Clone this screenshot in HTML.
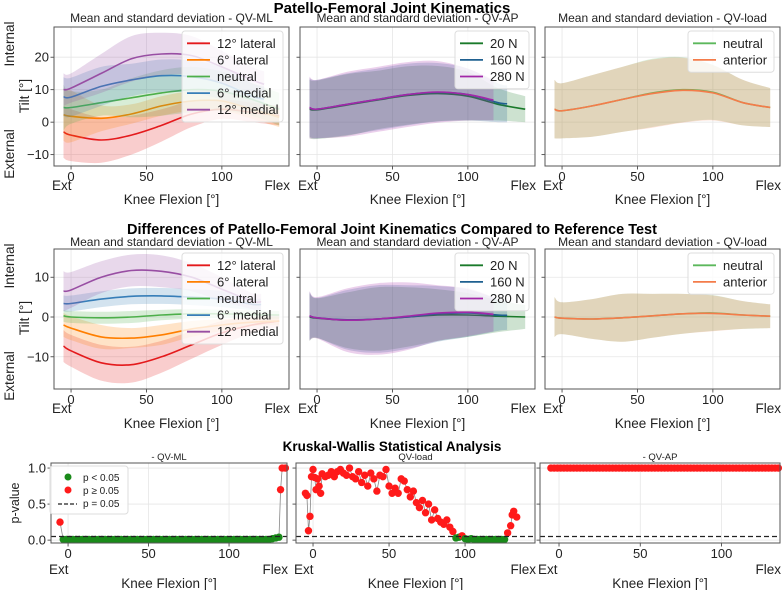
<!DOCTYPE html>
<html><head><meta charset="utf-8"><style>
body{margin:0;background:#fff;width:784px;height:590px;overflow:hidden;font-family:"Liberation Sans",sans-serif}
svg text{font-family:"Liberation Sans","DejaVu Sans",sans-serif}
</style></head><body>
<svg id="fig" width="784" height="590" viewBox="0 0 784 590" xmlns="http://www.w3.org/2000/svg"></svg>
<script>
// ---------- DATA ----------
const xKnots = [-5, 0, 20, 40, 60, 80, 100, 120, 138];
// Row 1 QV-ML means / sd
const mlLat12Mean = [-3, -4, -5.5, -4, -1, 2.5, 4, 3, 2];
const mlLat12Sd = [8, 8, 7, 6, 5, 4, 3, 3, 3];
const mlLat6Mean = [2.3, 1.8, 1.2, 2.5, 5, 6.5, 6.5, 4, 1.5];
const mlLat6Sd = [8, 8, 4, 3, 3, 3, 3, 3, 3];
const mlNeuMean = [4.5, 4.5, 6, 7.5, 9, 10, 9.5, 7, 4];
const mlNeuSd = [7, 5, 4, 6, 7, 7, 6, 5, 5];
const mlMed6Mean = [7.8, 7.7, 11, 13, 14.3, 14, 12, 8, 6];
const mlMed6Sd = [6, 6, 6, 5, 5, 5, 5, 4, 4];
const mlMed12Mean = [10, 10.5, 15, 19.5, 21, 20.5, 17, 13, 10];
const mlMed12Sd = [5, 4.5, 6, 7, 6.5, 6, 5, 4, 4];
// Row 1 QV-AP
const ap20Mean = [4, 3.8, 5.3, 6.8, 8.2, 8.8, 8, 5.5, 4];
const ap20Sd = [9, 9, 9.5, 9, 9, 8.5, 7.5, 5, 4];
const ap160Mean = [4.5, 4, 5.5, 7, 8.5, 9.2, 8.5, 6, 5];
const ap160Sd = [9, 9, 9.5, 9.5, 9.5, 9, 8, 6, 5];
const ap280Mean = [4.5, 4, 5.5, 7, 8.5, 9.3, 8.5, 6.5, 6];
const ap280Sd = [9.5, 9, 10, 10, 10, 9.5, 8, 6, 6];
const apEnds = [138, 126, 117];
// Row 1 QV-load
const ldNeuMean = [4, 3.5, 5, 7, 9, 10, 9.2, 6, 4.5];
const ldNeuSd = [9, 8.5, 9.5, 10, 10.5, 10, 8.5, 7, 6];
const ldAntMean = [4, 3.5, 5, 7, 8.8, 9.8, 9, 6, 4.5];
const ldAntSd = [9, 8.5, 9.5, 10, 10.5, 10, 8.5, 7, 6];
// Row 2 QV-ML differences
const dLat12Mean = [-7.3, -8.5, -11.5, -12, -10, -7, -4, -2, -1];
const dLat12Sd = [4, 4, 4.5, 4.5, 4, 3.5, 3, 2, 1.5];
const dLat6Mean = [-2, -2.8, -5, -5.3, -4.5, -3, -2, -1.3, -1];
const dLat6Sd = [3, 3, 3, 2.5, 2.5, 2, 1.5, 1, 1];
const dNeuMean = [0.3, 0, -0.2, 0, 0.5, 0.8, 0.8, 0.6, 0.5];
const dNeuSd = [1.5, 1.5, 1.5, 1.5, 1.3, 1.2, 1, 1, 1];
const dMed6Mean = [3.4, 3.4, 4.5, 5.2, 5.3, 5, 4.5, 3.2, 3];
const dMed6Sd = [2, 2, 2, 2, 2, 2, 2, 1.5, 1.5];
const dMed12Mean = [6.5, 6.8, 10, 11.7, 11.5, 10, 7, 4, 3.5];
const dMed12Sd = [5, 4.5, 4, 4, 4, 3.5, 3, 2, 2];
const mlEnds = [138, 138, 138, 126, 126];
// Row 2 QV-AP differences
const dAp20Mean = [0, -0.3, -0.8, -0.5, 0, 0.5, 0.5, 0.2, 0];
const dAp20Sd = [6, 5, 7, 8, 7.5, 6.5, 5.5, 4, 3];
const dAp160Mean = [0.3, -0.2, -0.7, -0.5, 0, 0.8, 1, 0.5, 0.3];
const dAp160Sd = [6, 5, 7.5, 8.5, 8, 7, 6, 4, 3];
const dAp280Mean = [0.3, -0.2, -0.8, -0.5, 0.2, 1, 1.2, 0.6, 0.5];
const dAp280Sd = [6.2, 5.2, 8, 9, 8.5, 7, 6, 4, 3];
// Row 2 QV-load differences
const dLdNeuMean = [0, -0.3, -0.5, -0.2, 0.3, 0.8, 1, 0.5, 0.2];
const dLdNeuSd = [5, 4, 5, 6, 5.5, 5, 4.5, 3.5, 3];
const dLdAntMean = [0, -0.3, -0.5, -0.2, 0.3, 0.8, 0.9, 0.5, 0.2];
const dLdAntSd = [5, 4, 5, 6, 5.5, 5, 4.5, 3.5, 3];
// Row 3 p-values
const pMlX = [-5,-3,-1,1,3,5,7,9,11,13,15,17,19,21,23,25,27,29,31,33,35,37,39,41,43,45,47,49,51,53,55,57,59,61,63,65,67,69,71,73,75,77,79,81,83,85,87,89,91,93,95,97,99,101,103,105,107,109,111,113,115,117,119,121,123,125,127,129,131,132,133,135];
const pMlP = [0.25,0.01,0.01,0.01,0.01,0.01,0.01,0.01,0.01,0.01,0.01,0.01,0.01,0.01,0.01,0.01,0.01,0.01,0.01,0.01,0.01,0.01,0.01,0.01,0.01,0.01,0.01,0.01,0.01,0.01,0.01,0.01,0.01,0.01,0.01,0.01,0.01,0.01,0.01,0.01,0.01,0.01,0.01,0.01,0.01,0.01,0.01,0.01,0.01,0.01,0.01,0.01,0.01,0.01,0.01,0.01,0.01,0.01,0.01,0.01,0.01,0.01,0.01,0.01,0.01,0.01,0.02,0.03,0.04,0.7,1.0,1.0];
const pLdX = [-5,-4,-3,-2,-1,0,1,2,3,4,5,6,8,10,12,14,16,18,20,22,24,26,28,30,32,34,36,38,40,42,44,46,48,50,52,54,56,58,60,62,64,66,68,70,72,74,76,78,80,82,84,86,88,90,92,94,96,98,100,102,104,106,108,110,112,114,116,118,120,122,124,126,128,130,131,132,134];
const pLdP = [0.65,0.62,0.13,0.33,0.88,0.98,0.87,0.7,0.85,0.75,0.65,0.92,0.88,0.9,0.95,0.88,0.95,0.98,0.93,0.9,1.0,0.88,0.85,0.95,0.8,0.9,0.75,0.93,0.85,0.68,0.9,0.88,0.98,0.75,0.65,0.72,0.65,0.85,0.82,0.7,0.6,0.68,0.52,0.45,0.55,0.38,0.5,0.28,0.42,0.3,0.25,0.22,0.28,0.18,0.12,0.03,0.04,0.06,0.02,0.01,0.02,0.01,0.01,0.01,0.01,0.01,0.01,0.01,0.01,0.01,0.01,0.01,0.1,0.2,0.35,0.4,0.32];
const pApX = [-5,-3,-1,1,3,5,7,9,11,13,15,17,19,21,23,25,27,29,31,33,35,37,39,41,43,45,47,49,51,53,55,57,59,61,63,65,67,69,71,73,75,77,79,81,83,85,87,89,91,93,95,97,99,101,103,105,107,109,111,113,115,117,119,121,123,125,127,129,131,133,135];
const pApP = pApX.map(()=>1.0);
const xTicks = [0, 50, 100];
const yTicks1 = [-10, 0, 10, 20];
const yTicks2 = [-10, 0, 10];
const yTicks3 = [0.0, 0.5, 1.0];
const yTickLabels3 = ['0.0','0.5','1.0'];

// ---------- DRAW ----------
const NS='http://www.w3.org/2000/svg', svg=document.getElementById('fig');
function el(tag,attrs,parent,text){const e=document.createElementNS(NS,tag);for(const k in attrs)e.setAttribute(k,attrs[k]);if(text!==undefined)e.textContent=text;(parent||svg).appendChild(e);return e;}
function mk(x0,x1,y0,y1,dx0,dx1,dy0,dy1){return{x0,x1,y0,y1,sx:v=>x0+(v-dx0)/(dx1-dx0)*(x1-x0),sy:v=>y1-(v-dy0)/(dy1-dy0)*(y1-y0)};}
function spline(pts){let d='M'+pts[0][0].toFixed(1)+','+pts[0][1].toFixed(1);for(let i=0;i<pts.length-1;i++){const p0=pts[Math.max(0,i-1)],p1=pts[i],p2=pts[i+1],p3=pts[Math.min(pts.length-1,i+2)];const c1=[p1[0]+(p2[0]-p0[0])/6,p1[1]+(p2[1]-p0[1])/6],c2=[p2[0]-(p3[0]-p1[0])/6,p2[1]-(p3[1]-p1[1])/6];d+=' C'+c1.map(v=>v.toFixed(1))+' '+c2.map(v=>v.toFixed(1))+' '+p2[0].toFixed(1)+','+p2[1].toFixed(1);}return d;}
function interp(xs,ys,x){for(let i=0;i<xs.length-1;i++){if(x<=xs[i+1]){const t=(x-xs[i])/(xs[i+1]-xs[i]);return ys[i]+t*(ys[i+1]-ys[i]);}}return ys[ys.length-1];}
function clipKnots(xs,ys,end){const ox=[],oy=[];for(let i=0;i<xs.length;i++){if(xs[i]<end){ox.push(xs[i]);oy.push(ys[i]);}}ox.push(end);oy.push(interp(xs,ys,end));return[ox,oy];}
function frame(a,name,yt,ylab){
  const g=el('g',{});
  xTicks.forEach(t=>{const x=a.sx(t);el('line',{x1:x,x2:x,y1:a.y0,y2:a.y1,stroke:'#e6e6e6','stroke-width':0.8},g);el('line',{x1:x,x2:x,y1:a.y1,y2:a.y1+3.5,stroke:'#333','stroke-width':0.8},g);el('text',{x:x,y:a.y1+15,'font-size':13,'text-anchor':'middle',fill:'#222'},g,String(t));});
  yt.forEach((t,i)=>{const y=a.sy(t);el('line',{x1:a.x0,x2:a.x1,y1:y,y2:y,stroke:'#e6e6e6','stroke-width':0.8},g);el('line',{x1:a.x0-3.5,x2:a.x0,y1:y,y2:y,stroke:'#333','stroke-width':0.8},g);if(ylab)el('text',{x:a.x0-5,y:y+4.5,'font-size':13,'text-anchor':'end',fill:'#222'},g,ylab[i]);});
  return g;}
function border(a){el('rect',{x:a.x0,y:a.y0,width:a.x1-a.x0,height:a.y1-a.y0,fill:'none',stroke:'#555','stroke-width':1,});}
function series(a,mean,sd,color,end,name){
  const g=el('g',{});
  const [kx,km]=clipKnots(xKnots,mean,end),[,ks]=clipKnots(xKnots,sd,end);
  const up=kx.map((x,i)=>[a.sx(x),a.sy(km[i]+ks[i])]),lo=kx.map((x,i)=>[a.sx(x),a.sy(km[i]-ks[i])]).reverse();
  const band=el('path',{d:spline(up)+' L'+spline(lo).slice(1)+' Z',fill:color,'fill-opacity':0.22,stroke:'none'},g);
  
  const ln=el('path',{d:spline(kx.map((x,i)=>[a.sx(x),a.sy(km[i])])),fill:'none',stroke:color,'stroke-width':1.6},g);
  }
function legend(x0,y0,w,entries,name,dy){
  const g=el('g',{});
  el('rect',{x:x0,y:y0,width:w,height:entries.length*dy+8,rx:3,fill:'#fff','fill-opacity':0.8,stroke:'#ddd'},g);
  entries.forEach((e,i)=>{const y=y0+4+dy*(i+0.5);const it=el('g',{},g);
    el('line',{x1:x0+5,x2:x0+28,y1:y,y2:y,stroke:e[1],'stroke-width':1.8},it);el('text',{x:x0+35,y:y+4.5,'font-size':13,fill:'#222'},it,e[0]);});}
function txt(x,y,s,size,opts,name){const t=el('text',Object.assign({x:x,y:y,'font-size':size,'text-anchor':'middle',fill:'#222'},opts||{}),svg,s);return t;}
function extFlex(a,yy,name){txt(a.x0-2,yy,'Ext',13.5,{'text-anchor':'start'},name+'-ext-label');txt(a.x1+1,yy,'Flex',13.5,{'text-anchor':'end'},name+'-flex-label');}

const C={red:'#e41a1c',orange:'#ff7f00',green:'#4daf4a',blue:'#377eb8',purple:'#984ea3',dg:'#1a7a2a',teal:'#1f6090',mag:'#a228a8',lg:'#5cb85c',lo:'#f47c4a'};
const mlLbl=[['12° lateral',C.red],['6° lateral',C.orange],['neutral',C.green],['6° medial',C.blue],['12° medial',C.purple]];
const apLbl=[['20 N',C.dg],['160 N',C.teal],['280 N',C.mag]];
const ldLbl=[['neutral',C.lg],['anterior',C.lo]];

// titles
txt(392,13,'Patello-Femoral Joint Kinematics',15,{'font-weight':'bold',fill:'#000'},'row1-title');
txt(392,234,'Differences of Patello-Femoral Joint Kinematics Compared to Reference Test',14.5,{'font-weight':'bold',fill:'#000'},'row2-title');
txt(392,451,'Kruskal-Wallis Statistical Analysis',13.5,{'font-weight':'bold',fill:'#000'},'row3-title');

const XL=[[54,289],[300,535],[545,780]];
const dom=[-11.3,144.5];
function rowKin(y0,y1,dy0,dy1,yt,sets,ylabs,prefix,subY,ext,lab,legY,legDy){
  const subs=['Mean and standard deviation - QV-ML','Mean and standard deviation - QV-AP','Mean and standard deviation - QV-load'];
  const axes=XL.map(r=>mk(r[0],r[1],y0,y1,dom[0],dom[1],dy0,dy1));
  axes.forEach((a,i)=>{frame(a,prefix+'-panel-'+i+'-grid',yt,i===0?ylabs:null);txt((a.x0+a.x1)/2,subY,subs[i],12,{},prefix+'-subtitle-'+i);
    sets[i].forEach(s=>series(a,s[0],s[1],s[2],s[3],prefix+'-'+s[4]));border(a);
    extFlex(a,ext,prefix+'-panel-'+i);txt((a.x0+a.x1)/2,lab,'Knee Flexion [°]',13.5,{},prefix+'-x-axis-title-'+i);});
  legend(182,legY,101,mlLbl,prefix+'-legend-ml',legDy);
  legend(455,legY,74,apLbl,prefix+'-legend-ap',legDy);
  legend(688,legY,86,ldLbl,prefix+'-legend-load',legDy);
  return axes;}
rowKin(27,166,-13.5,29.3,yTicks1,[
  [[mlLat12Mean,mlLat12Sd,C.red,138,'12-lateral'],[mlLat6Mean,mlLat6Sd,C.orange,138,'6-lateral'],[mlNeuMean,mlNeuSd,C.green,138,'neutral'],[mlMed6Mean,mlMed6Sd,C.blue,128,'6-medial'],[mlMed12Mean,mlMed12Sd,C.purple,128,'12-medial']],
  [[ap20Mean,ap20Sd,C.dg,apEnds[0],'20N'],[ap160Mean,ap160Sd,C.teal,apEnds[1],'160N'],[ap280Mean,ap280Sd,C.mag,apEnds[2],'280N']],
  [[ldNeuMean,ldNeuSd,C.lg,138,'load-neutral'],[ldAntMean,ldAntSd,C.lo,138,'load-anterior']]],
  ['−10','0','10','20'],'row1',22,190,204,31,16.6);
rowKin(249,389,-18.1,17.1,yTicks2,[
  [[dLat12Mean,dLat12Sd,C.red,mlEnds[0],'12-lateral'],[dLat6Mean,dLat6Sd,C.orange,mlEnds[1],'6-lateral'],[dNeuMean,dNeuSd,C.green,mlEnds[2],'neutral'],[dMed6Mean,dMed6Sd,C.blue,mlEnds[3],'6-medial'],[dMed12Mean,dMed12Sd,C.purple,mlEnds[4],'12-medial']],
  [[dAp20Mean,dAp20Sd,C.dg,138,'20N'],[dAp160Mean,dAp160Sd,C.teal,126,'160N'],[dAp280Mean,dAp280Sd,C.mag,117,'280N']],
  [[dLdNeuMean,dLdNeuSd,C.lg,138,'load-neutral'],[dLdAntMean,dLdAntSd,C.lo,138,'load-anterior']]],
  ['−10','0','10'],'row2',246,413,428,253,16.6);
// y axis titles
[[96,'row1'],[318,'row2']].forEach(([cy,p])=>{
  txt(0,0,'Tilt [°]',13.5,{transform:'translate(29,'+cy+') rotate(-90)'},p+'-y-axis-title');
  txt(0,0,'Internal',13.5,{transform:'translate(14,'+(cy-52)+') rotate(-90)'},p+'-internal-label');
  txt(0,0,'External',13.5,{transform:'translate(14,'+(cy+58)+') rotate(-90)'},p+'-external-label');});

// Row 3
const r3=[mk(51,287,463,543,-10.6,136,-0.04,1.07),mk(296,535,463,543,-11.2,146,-0.04,1.07),mk(540,780,463,543,-11.7,136,-0.04,1.07)];
const r3sub=['- QV-ML','QV-load','- QV-AP'];
const r3data=[[pMlX,pMlP],[pLdX,pLdP],[pApX,pApP]];
r3.forEach((a,i)=>{
  frame(a,'row3-panel-'+i+'-grid',yTicks3,i===0?yTickLabels3:null);
  txt((a.x0+a.x1)/2,460,r3sub[i],9.5,{},'row3-subtitle-'+i);
  const [xs,ps]=r3data[i];
  const g=el('g',{});
  el('path',{d:xs.map((x,j)=>(j?'L':'M')+a.sx(x).toFixed(1)+','+a.sy(ps[j]).toFixed(1)).join(' '),fill:'none',stroke:'#888','stroke-width':0.8},g);
  xs.forEach((x,j)=>{const c=el('circle',{cx:a.sx(x),cy:a.sy(ps[j]),r:3.7,fill:ps[j]<0.05?'#1a8a1a':'#ff1a1a'},g);});
  const th=el('line',{x1:a.x0,x2:a.x1,y1:a.sy(0.05),y2:a.sy(0.05),stroke:'#222','stroke-width':1.3,'stroke-dasharray':'5,3'});
  
  border(a);extFlex(a,574,'row3-panel-'+i);txt((a.x0+a.x1)/2,588,'Knee Flexion [°]',13.5,{},'row3-x-axis-title-'+i);});
txt(0,0,'p-value',12.5,{transform:'translate(19,503) rotate(-90)'},'row3-y-axis-title');
const lg=el('g',{});
el('rect',{x:50,y:466,width:78,height:48,rx:3,fill:'#fff','fill-opacity':0.85,stroke:'#ddd'},lg);
el('circle',{cx:68,cy:477,r:3.5,fill:'#1a8a1a'},lg);el('text',{x:83,y:481,'font-size':10,fill:'#222'},lg,'p < 0.05');
el('circle',{cx:68,cy:490,r:3.5,fill:'#ff1a1a'},lg);el('text',{x:83,y:494,'font-size':10,fill:'#222'},lg,'p ≥ 0.05');
el('line',{x1:58,x2:77,y1:504,y2:504,stroke:'#222','stroke-width':1.3,'stroke-dasharray':'4,2'},lg);el('text',{x:83,y:507,'font-size':10,fill:'#222'},lg,'p = 0.05');
</script>
</body></html>
